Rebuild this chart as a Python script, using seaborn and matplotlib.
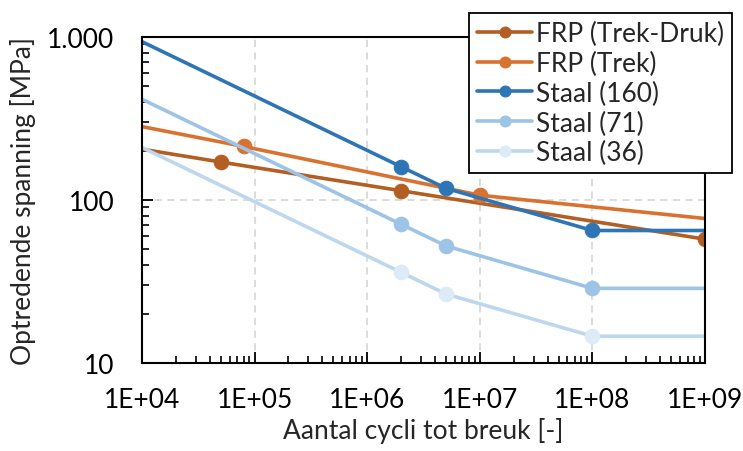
import math
import matplotlib
matplotlib.use("Agg")
import matplotlib.pyplot as plt
import matplotlib.ticker as mticker
import seaborn as sns

# Wöhler-lijnen (log-log), waarden
frp_td_n = [1e4, 5e4, 2e6, 1e9]
frp_td_s = [205, 171, 114, 57.5]

frp_t_n = [1e4, 8e4, 1e7, 1e9]
frp_t_s = [282, 213, 107, 77]

staal_n = [1e4, 2e6, 5e6, 1e8, 1e9]
staal_160 = [936, 160, 118, 65, 65]
staal_71 = [415, 71, 52.3, 28.7, 28.7]
staal_36 = [210, 36, 26.5, 14.6, 14.6]

series = [
    ("FRP (Trek-Druk)", frp_td_n, frp_td_s, "#B35E22", "#B35E22", [1, 2, 3]),
    ("FRP (Trek)", frp_t_n, frp_t_s, "#D9712F", "#D9712F", [1, 2]),
    ("Staal (160)", staal_n, staal_160, "#2E75B6", "#2E75B6", [1, 2, 3]),
    ("Staal (71)", staal_n, staal_71, "#9DC3E6", "#9DC3E6", [1, 2, 3]),
    ("Staal (36)", staal_n, staal_36, "#BDD7EE", "#DDEBF7", [1, 2, 3]),
]

sns.set_style("white")
plt.rcParams["font.family"] = ["Lato", "DejaVu Sans"]

fig = plt.figure(figsize=(7.43, 4.52), dpi=100)
ax = fig.add_axes([142 / 743, 88 / 452, 563 / 743, 326 / 452])

for label, xs, ys, lc, mc, mev in series:
    sns.lineplot(x=xs, y=ys, ax=ax, color=lc, lw=2.6, label=label,
                 marker="o", markersize=10.5, markevery=mev,
                 markerfacecolor=mc, markeredgecolor=mc, sort=False)

ax.set_xscale("log")
ax.set_yscale("log")
ax.set_xlim(1e4, 1e9)
ax.set_ylim(10, 1000)

ax.xaxis.set_major_locator(mticker.LogLocator(base=10, numticks=10))
ax.xaxis.set_minor_locator(mticker.LogLocator(base=10, subs=range(2, 10), numticks=100))
ax.yaxis.set_major_locator(mticker.FixedLocator([10, 100, 1000]))
ax.yaxis.set_minor_locator(mticker.LogLocator(base=10, subs=range(2, 10), numticks=100))
ax.xaxis.set_major_formatter(mticker.FuncFormatter(lambda v, p: f"1E+{int(round(math.log10(v))):02d}"))
ax.yaxis.set_major_formatter(mticker.FixedFormatter(["10", "100", "1.000"]))
ax.xaxis.set_minor_formatter(mticker.NullFormatter())
ax.yaxis.set_minor_formatter(mticker.NullFormatter())

ax.grid(which="major", color="#D9D9D9", linestyle=(0, (4, 3)), linewidth=1.3)
ax.tick_params(which="both", bottom=True, left=True, top=False, right=False,
               direction="in", colors="black")
ax.tick_params(which="major", length=8, width=1.3, labelsize=19)
ax.tick_params(which="minor", length=5, width=1.2)
ax.tick_params(axis="x", which="major", pad=17)
ax.tick_params(axis="y", which="major", pad=20)
for sp in ax.spines.values():
    sp.set_color("black")
    sp.set_linewidth(1.5)

ax.set_xlabel("Aantal cycli tot breuk [-]", fontsize=19, labelpad=4)
ax.set_ylabel("Optredende spanning [MPa]", fontsize=19, labelpad=8)

leg = ax.legend(loc="upper left", bbox_to_anchor=(469 / 743, 438 / 452),
                bbox_transform=fig.transFigure, fontsize=19, frameon=True,
                fancybox=False, edgecolor="black", framealpha=1,
                handlelength=2.1, handletextpad=0.15, labelspacing=0.18,
                borderpad=0.3, borderaxespad=0, markerscale=0.75)
leg.get_frame().set_linewidth(1.3)

fig.savefig("out.png", dpi=100)
